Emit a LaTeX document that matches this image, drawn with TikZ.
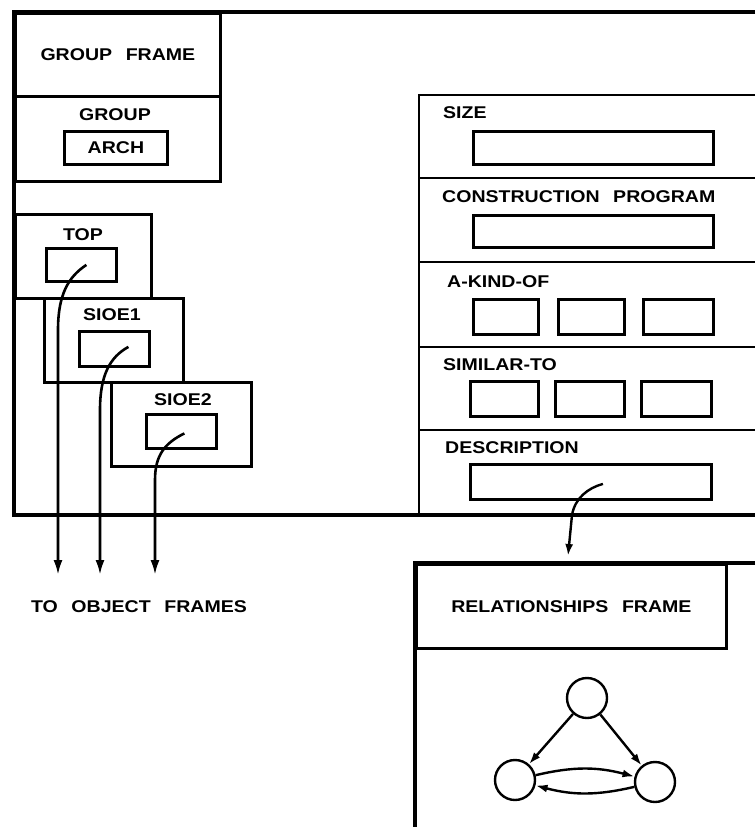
\documentclass[tikz,border=0pt]{standalone}
\usepackage{fontspec}
\setmainfont{Liberation Sans}[FakeStretch=1.15,WordSpace=2.5]
\usetikzlibrary{arrows.meta,positioning}
\tikzset{
  slotbox/.style={draw,rectangle,line width=2.8pt,inner sep=0pt,anchor=north west},
  outline/.style={line width=3.6pt},
  sepline/.style={line width=2.8pt},
  lbl/.style={font=\fontsize{17}{20}\selectfont\bfseries,inner sep=0pt},
  relnode/.style={draw,circle,line width=2.4pt,minimum size=40pt,inner sep=0pt},
  objarr/.style={-{Latex[length=15pt,width=9pt]},line width=2.6pt},
  relarr/.style={-{Latex[length=12pt,width=8pt]},line width=2.4pt}
}

\begin{document}
\begin{tikzpicture}[x=1pt,y=-1pt]
  \useasboundingbox (0,0) rectangle (755,827);

  % group frame, left half
  \draw[outline] (755,12) -- (14,12) -- (14,515) -- (755,515);
  \node[slotbox,lbl,minimum width=205pt,minimum height=83pt] (gframe) at (14,12) {GROUP FRAME};
  \node[slotbox,minimum width=205pt,minimum height=85pt] (gbox) at (14,95) {};
  \node[lbl] (grouplbl) at (115,115) {GROUP};
  \node[slotbox,lbl,minimum width=103pt,minimum height=33pt] (arch) at (63,130) {ARCH};

  \node[slotbox,minimum width=136pt,minimum height=84pt] (topbox) at (14,213) {};
  \node[lbl] (toplbl) at (83,235) {TOP};
  \node[slotbox,minimum width=70pt,minimum height=33pt] (topslot) at (45,247) {};

  \node[slotbox,minimum width=139pt,minimum height=84pt] (sioea) at (43,297) {};
  \node[lbl] (sioealbl) at (112,315) {SIOE1};
  \node[slotbox,minimum width=70pt,minimum height=35pt] (sioeaslot) at (78,330) {};

  \node[slotbox,minimum width=140pt,minimum height=84pt] (sioeb) at (110,381) {};
  \node[lbl] (sioeblbl) at (183,400) {SIOE2};
  \node[slotbox,minimum width=70pt,minimum height=34pt] (sioebslot) at (145,413) {};

  % pointers to the object frames
  \coordinate (obj1) at (58,575);
  \coordinate (obj2) at (100,575);
  \coordinate (obj3) at (155,575);
  \draw[objarr] ([xshift=5pt]topslot.center) .. controls (68,277) and (58,295) .. (58,330) -- (obj1);
  \draw[objarr] ([xshift=14pt,yshift=2pt]sioeaslot.center) .. controls (110,357) and (100,375) .. (100,410) -- (obj2);
  \draw[objarr] ([xshift=3pt,yshift=-2pt]sioebslot.center) .. controls (165,443) and (155,455) .. (155,480) -- (obj3);
  \node[lbl] (objlbl) at (139,607) {TO OBJECT FRAMES};

  % slots, right half
  \draw[sepline] (755,95) -- (419,95) -- (419,515);
  \foreach \y in {178,262,347,430}
    \draw[sepline] (419,\y) -- (755,\y);

  \node[lbl,anchor=west] (sizelbl) at (443,113) {SIZE};
  \node[slotbox,minimum width=240pt,minimum height=33pt] (sizeslot) at (472,130) {};
  \node[lbl,anchor=west] (cplbl) at (442,197) {CONSTRUCTION PROGRAM};
  \node[slotbox,minimum width=240pt,minimum height=32pt] (cpslot) at (472,214) {};
  \node[lbl,anchor=west] (akolbl) at (447,282) {A-KIND-OF};
  \foreach \x/\w [count=\i] in {472/65,557/66,642/70}
    \node[slotbox,minimum width=\w,minimum height=35pt] (ako\i) at (\x,298) {};
  \node[lbl,anchor=west] (simlbl) at (443,365) {SIMILAR-TO};
  \foreach \x/\w [count=\i] in {469/68,554/69,640/70}
    \node[slotbox,minimum width=\w,minimum height=35pt] (sim\i) at (\x,380) {};
  \node[lbl,anchor=west] (desclbl) at (445,448) {DESCRIPTION};
  \node[slotbox,minimum width=241pt,minimum height=35pt] (descslot) at (469,463) {};

  % relationships frame
  \draw[outline] (755,563) -- (415,563) -- (415,827);
  \node[slotbox,lbl,minimum width=310pt,minimum height=84pt] (relhead) at (415,563) {RELATIONSHIPS FRAME};
  \coordinate (relin) at (568,556);
  \draw[relarr] ([xshift=12pt,yshift=-2pt]descslot.center) .. controls (588,488) and (575,498) .. (572,515) -- (relin);

  \node[relnode] (rtop) at (587,698) {};
  \node[relnode] (rleft) at (515,780) {};
  \node[relnode] (rright) at (655,782) {};
  \draw[relarr] (rtop) -- (rleft);
  \draw[relarr] (rtop) -- (rright);
  \draw[relarr] (rleft) to[bend left=14] (rright);
  \draw[relarr] (rright) to[bend left=14] (rleft);
\end{tikzpicture}
\end{document}
